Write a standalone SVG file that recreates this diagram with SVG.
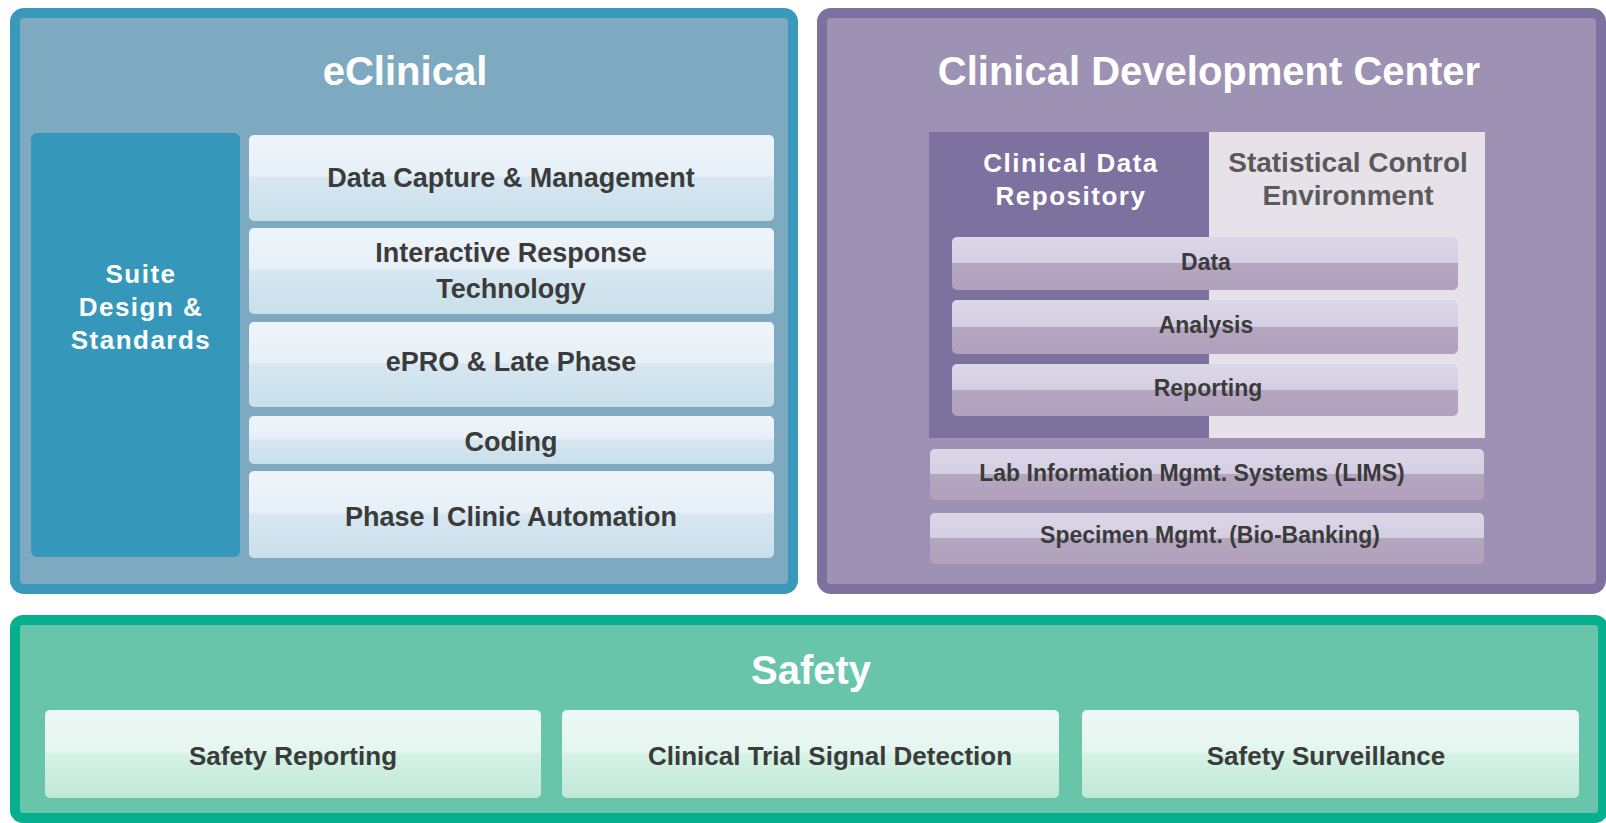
<svg xmlns="http://www.w3.org/2000/svg" width="1606" height="823" viewBox="0 0 1606 823">
<defs>
  <linearGradient id="gBlue" x1="0" y1="0" x2="0" y2="1">
    <stop offset="0" stop-color="#eef4fa"/>
    <stop offset="0.47" stop-color="#e7f0f7"/>
    <stop offset="0.5" stop-color="#d7e7f1"/>
    <stop offset="1" stop-color="#c8dfea"/>
  </linearGradient>
  <linearGradient id="gPurp" x1="0" y1="0" x2="0" y2="1">
    <stop offset="0" stop-color="#dcd8e8"/>
    <stop offset="0.5" stop-color="#d3cee2"/>
    <stop offset="0.5" stop-color="#b5a6c0"/>
    <stop offset="1" stop-color="#b1a1bc"/>
  </linearGradient>
  <linearGradient id="gGreen" x1="0" y1="0" x2="0" y2="1">
    <stop offset="0" stop-color="#edf8f4"/>
    <stop offset="0.48" stop-color="#e4f6ef"/>
    <stop offset="0.5" stop-color="#d5f2e5"/>
    <stop offset="1" stop-color="#c0e8d7"/>
  </linearGradient>
</defs>
<style>
  text{font-family:"Liberation Sans",Arial,sans-serif;font-weight:bold;text-anchor:middle}
  .title{font-size:40px;fill:#ffffff}
  .wt{font-size:26px;fill:#ffffff;letter-spacing:1.5px}
  .dt{font-size:27px;fill:#3b3b3b}
  .st{font-size:26px;fill:#3b3b3b}
  .gt{font-size:28px;fill:#5a5a5a}
  .sm{font-size:23px;fill:#3b3b3b}
  .bbox{fill:url(#gBlue)}
  .pbox{fill:url(#gPurp)}
  .gbox{fill:url(#gGreen)}
</style>
<rect x="0" y="0" width="1606" height="823" fill="#ffffff"/>

<g id="eclinical">
  <rect x="15" y="13" width="778" height="576" rx="9" fill="#7eaac1" stroke="#3899bb" stroke-width="10"/>
  <text class="title" x="405" y="85">eClinical</text>
</g>
<g id="suite-design">
  <rect x="31" y="133" width="209" height="424" rx="6" fill="#3598ba"/>
  <text class="wt" x="141" y="283">Suite</text>
  <text class="wt" x="141" y="316">Design &amp;</text>
  <text class="wt" x="141" y="349">Standards</text>
</g>
<g id="data-capture">
  <rect class="bbox" x="249" y="135" width="525" height="86" rx="5"/>
  <text class="dt" x="511" y="187">Data Capture &amp; Management</text>
</g>
<g id="irt">
  <rect class="bbox" x="249" y="228" width="525" height="86" rx="5"/>
  <text class="dt" x="511" y="262">Interactive Response</text>
  <text class="dt" x="511" y="298">Technology</text>
</g>
<g id="epro">
  <rect class="bbox" x="249" y="322" width="525" height="85" rx="5"/>
  <text class="dt" x="511" y="371">ePRO &amp; Late Phase</text>
</g>
<g id="coding">
  <rect class="bbox" x="249" y="416" width="525" height="48" rx="5"/>
  <text class="dt" x="511" y="451">Coding</text>
</g>
<g id="phase1">
  <rect class="bbox" x="249" y="471" width="525" height="87" rx="5"/>
  <text class="dt" x="511" y="526">Phase I Clinic Automation</text>
</g>

<g id="cdc">
  <rect x="822" y="13" width="779" height="576" rx="9" fill="#9d91b4" stroke="#7d71a0" stroke-width="10"/>
  <text class="title" x="1209" y="85">Clinical Development Center</text>
</g>
<g id="cdr">
  <rect x="929" y="132" width="281" height="306" fill="#7d71a0"/>
  <text class="wt" x="1071" y="172">Clinical Data</text>
  <text class="wt" x="1071" y="205">Repository</text>
</g>
<g id="sce">
  <rect x="1209" y="132" width="276" height="306" fill="#e7e1e9"/>
  <text class="gt" x="1348" y="172">Statistical Control</text>
  <text class="gt" x="1348" y="205">Environment</text>
</g>
<g id="data">
  <rect class="pbox" x="952" y="237" width="506" height="53" rx="5"/>
  <text class="sm" x="1206" y="270">Data</text>
</g>
<g id="analysis">
  <rect class="pbox" x="952" y="300" width="506" height="54" rx="5"/>
  <text class="sm" x="1206" y="333">Analysis</text>
</g>
<g id="reporting">
  <rect class="pbox" x="952" y="364" width="506" height="52" rx="5"/>
  <text class="sm" x="1208" y="396">Reporting</text>
</g>
<g id="lims">
  <rect class="pbox" x="930" y="449" width="554" height="51" rx="5"/>
  <text class="sm" x="1192" y="481">Lab Information Mgmt. Systems (LIMS)</text>
</g>
<g id="specimen">
  <rect class="pbox" x="930" y="513" width="554" height="51" rx="5"/>
  <text class="sm" x="1210" y="543">Specimen Mgmt. (Bio-Banking)</text>
</g>

<g id="safety">
  <rect x="15" y="620" width="1588" height="198" rx="8" fill="#68c5aa" stroke="#06b08e" stroke-width="10"/>
  <text class="title" x="811" y="684">Safety</text>
</g>
<g id="safety-reporting">
  <rect class="gbox" x="45" y="710" width="496" height="88" rx="5"/>
  <text class="st" x="293" y="765">Safety Reporting</text>
</g>
<g id="signal-detection">
  <rect class="gbox" x="562" y="710" width="497" height="88" rx="5"/>
  <text class="st" x="830" y="765">Clinical Trial Signal Detection</text>
</g>
<g id="safety-surveillance">
  <rect class="gbox" x="1082" y="710" width="497" height="88" rx="5"/>
  <text class="st" x="1326" y="765">Safety Surveillance</text>
</g>
<g id="connectors"></g>
</svg>
